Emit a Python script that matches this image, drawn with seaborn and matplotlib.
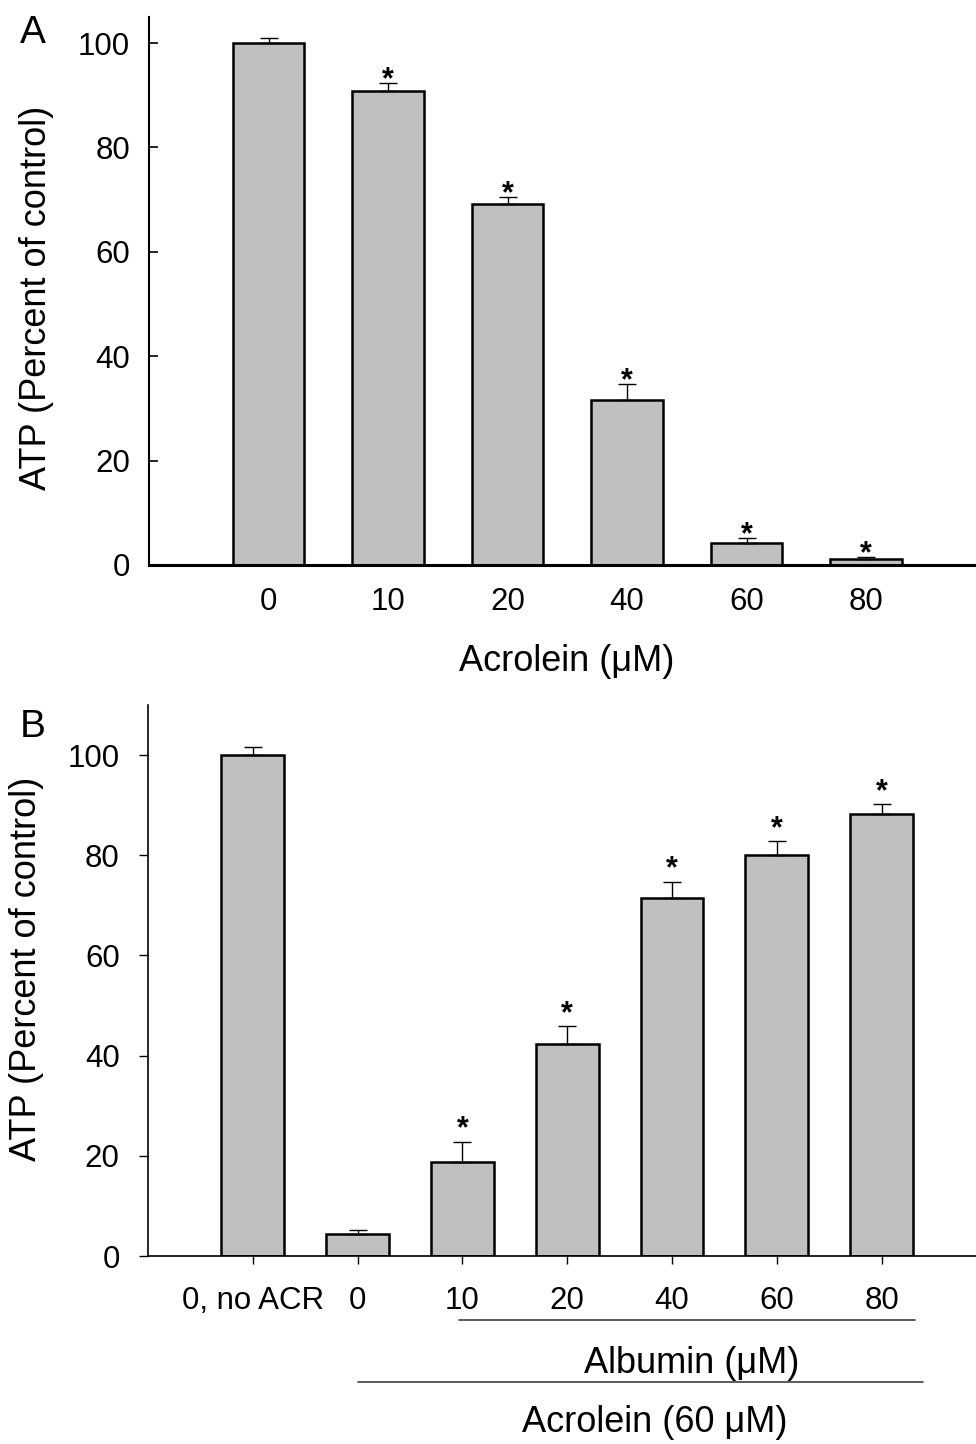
"""
ATP levels after acrolein exposure (A) and albumin rescue (B).
Two stacked bar panels with one-sided SEM bars and significance stars.
"""
import numpy as np
import pandas as pd
import matplotlib
matplotlib.use("Agg")
import matplotlib.pyplot as plt
import matplotlib.transforms as mtransforms
import seaborn as sns

# ── data ───────────────────────────────────────────────────
# panel A: acrolein dose response
acr_doses = ["0", "10", "20", "40", "60", "80"]
acr_atp   = [100.0, 90.8, 69.2, 31.6, 4.3, 1.1]
acr_sem   = [1.0, 1.6, 1.4, 3.1, 0.9, 0.4]
acr_sig   = [False, True, True, True, True, True]

# panel B: albumin added with 60 uM acrolein
alb_labels = ["0, no ACR", "0", "10", "20", "40", "60", "80"]
alb_atp    = [100.0, 4.3, 18.8, 42.3, 71.5, 80.0, 88.2]
alb_sem    = [1.7, 0.8, 4.0, 3.6, 3.2, 2.8, 2.0]
alb_sig    = [False, False, True, True, True, True, True]

yticks = [0, 20, 40, 60, 80, 100]

# ── style ──────────────────────────────────────────────────
sns.set_style("ticks")
plt.rcParams.update({
    "font.family":     ["Liberation Sans", "DejaVu Sans"],
    "axes.edgecolor":  "black",
    "xtick.color":     "black",
    "ytick.color":     "black",
    "text.color":      "black",
    "axes.labelcolor": "black",
})
BAR = "#c0c0c0"
W, H = 976, 1444

fig = plt.figure(figsize=(W / 100, H / 100), dpi=100)

def px_axes(l, t, r, b):
    return fig.add_axes([l / W, 1 - b / H, (r - l) / W, (b - t) / H])

def bars(ax, labels, vals, errs, sig, star_dy):
    df = pd.DataFrame({"grp": labels, "atp": vals})
    sns.barplot(data=df, x="grp", y="atp", order=labels, color=BAR, saturation=1,
                width=0.6, edgecolor="black", linewidth=1.8, errorbar=None, ax=ax)
    xs = np.arange(len(labels))
    ax.errorbar(xs, vals, yerr=[np.zeros(len(xs)), errs], fmt="none", ecolor="black",
                elinewidth=1.0, capsize=6.5, capthick=1.0, zorder=3)
    for x, v, e, s in zip(xs, vals, errs, sig):
        if s:
            ax.annotate("*", (x, v + e), xytext=(0, star_dy), textcoords="offset points",
                        ha="center", va="baseline", fontsize=22, fontweight="bold")
    ax.set_yticks(yticks)
    ax.spines[["top", "right"]].set_visible(False)
    ax.tick_params(labelsize=22.5, bottom=True, left=True)

# ── Panel A ────────────────────────────────────────────────
axA = px_axes(149, 17, 976, 565)
bars(axA, acr_doses, acr_atp, acr_sem, acr_sig, star_dy=-4)
axA.set_xlim(-1.0, 5.92)
axA.set_ylim(0, 105)
axA.spines["bottom"].set_linewidth(2.2)
axA.spines["left"].set_linewidth(1.5)
axA.tick_params(axis="x", length=0, pad=16)
axA.tick_params(axis="y", direction="in", length=6.7, width=1.2, pad=13.7)
axA.set_xlabel("Acrolein (\u03bcM)", fontsize=26)
axA.xaxis.set_label_coords(0.505, -0.144)
axA.set_ylabel("ATP (Percent of control)", fontsize=26)
axA.yaxis.set_label_coords(-0.115, 0.487)
fig.text(20 / W, 1 - 43 / H, "A", fontsize=28, ha="left", va="baseline")

# ── Panel B ────────────────────────────────────────────────
axB = px_axes(148, 705, 976, 1256)
bars(axB, alb_labels, alb_atp, alb_sem, alb_sig, star_dy=3)
axB.set_xlim(-1.0, 6.9)
axB.set_ylim(0, 110)
for s in ["bottom", "left"]:
    axB.spines[s].set_linewidth(1.2)
axB.tick_params(axis="x", direction="out", length=5.5, width=1.0, pad=16)
axB.tick_params(axis="y", direction="out", length=6.7, width=1.0, pad=13.7)
axB.set_xlabel("Acrolein (60 \u03bcM)", fontsize=26)
axB.xaxis.set_label_coords(0.612, -0.270)
axB.set_ylabel("ATP (Percent of control)", fontsize=26)
axB.yaxis.set_label_coords(-0.1256, 0.521)
fig.text(20 / W, 1 - 737 / H, "B", fontsize=28, ha="left", va="baseline")

# group brackets under the x axis
trB = mtransforms.blended_transform_factory(axB.transData, axB.transAxes)
axB.plot([1.97, 6.32], [-0.116, -0.116], color="#404040", lw=1.2, transform=trB, clip_on=False)
axB.text(4.19, -0.2118, "Albumin (\u03bcM)", fontsize=26, ha="center", va="baseline", transform=trB)
axB.plot([1.007, 6.39], [-0.228, -0.228], color="#404040", lw=1.2, transform=trB, clip_on=False)

fig.savefig("out.png", dpi=100, facecolor="white")
